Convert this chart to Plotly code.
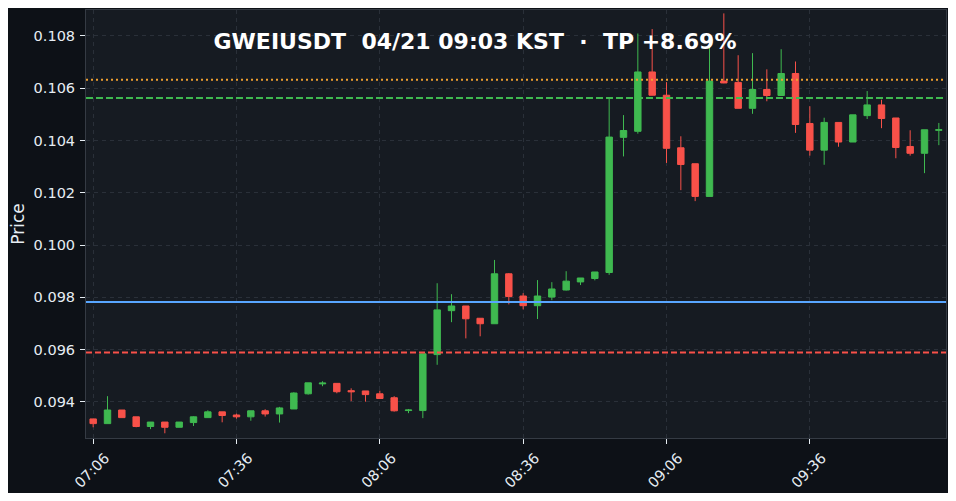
import plotly.graph_objects as go
import pandas as pd

start = "2025-04-21 07:06"
opens = [0.09335, 0.09317, 0.09369, 0.09343, 0.09306, 0.09323, 0.09303, 0.09321, 0.09340, 0.09362,
         0.09350, 0.09343, 0.09366, 0.09354, 0.09373, 0.09431, 0.09469, 0.09471, 0.09443, 0.09442,
         0.09431, 0.09416, 0.09367, 0.09367, 0.09581, 0.09749, 0.09767, 0.09720, 0.09699, 0.09890,
         0.09805, 0.09768, 0.09801, 0.09828, 0.09859, 0.09872, 0.09895, 0.10412, 0.10435, 0.10662,
         0.10573, 0.10372, 0.10311, 0.10186, 0.10627, 0.10622, 0.10523, 0.10595, 0.10572, 0.10656,
         0.10465, 0.10363, 0.10469, 0.10394, 0.10495, 0.10536, 0.10486, 0.10377, 0.10351, 0.10439]
closes = [0.09317, 0.09369, 0.09340, 0.09306, 0.09323, 0.09303, 0.09323, 0.09343, 0.09362, 0.09348,
          0.09343, 0.09366, 0.09354, 0.09377, 0.09434, 0.09473, 0.09472, 0.09439, 0.09439, 0.09428,
          0.09413, 0.09366, 0.09369, 0.09584, 0.09752, 0.09767, 0.09718, 0.09699, 0.09890, 0.09803,
          0.09768, 0.09805, 0.09832, 0.09862, 0.09874, 0.09897, 0.10413, 0.10438, 0.10662, 0.10573,
          0.10370, 0.10308, 0.10186, 0.10627, 0.10620, 0.10523, 0.10595, 0.10572, 0.10656, 0.10461,
          0.10363, 0.10469, 0.10394, 0.10498, 0.10536, 0.10484, 0.10373, 0.10351, 0.10441, 0.10441]
highs = [0.09335, 0.09422, 0.09369, 0.09343, 0.09323, 0.09323, 0.09323, 0.09345, 0.09368, 0.09362,
         0.09355, 0.09366, 0.09372, 0.09381, 0.09437, 0.09473, 0.09479, 0.09471, 0.09452, 0.09442,
         0.09443, 0.09422, 0.09373, 0.09584, 0.09854, 0.09812, 0.09767, 0.09720, 0.09943, 0.09893,
         0.09816, 0.09866, 0.09858, 0.09900, 0.09874, 0.09897, 0.10562, 0.10497, 0.10809, 0.10826,
         0.10623, 0.10416, 0.10311, 0.10780, 0.10886, 0.10726, 0.10734, 0.10672, 0.10749, 0.10702,
         0.10531, 0.10487, 0.10469, 0.10498, 0.10589, 0.10556, 0.10486, 0.10439, 0.10441, 0.10467]
lows = [0.09303, 0.09317, 0.09340, 0.09303, 0.09296, 0.09280, 0.09303, 0.09308, 0.09340, 0.09322,
        0.09336, 0.09328, 0.09344, 0.09321, 0.09373, 0.09428, 0.09460, 0.09433, 0.09403, 0.09401,
        0.09413, 0.09363, 0.09357, 0.09338, 0.09542, 0.09705, 0.09643, 0.09651, 0.09699, 0.09773,
        0.09754, 0.09717, 0.09789, 0.09826, 0.09847, 0.09865, 0.09886, 0.10339, 0.10426, 0.10573,
        0.10314, 0.10210, 0.10168, 0.10186, 0.10619, 0.10523, 0.10502, 0.10550, 0.10572, 0.10429,
        0.10342, 0.10307, 0.10376, 0.10394, 0.10482, 0.10447, 0.10332, 0.10342, 0.10275, 0.10382]

times = pd.date_range(start, periods=len(opens), freq="3min")

entry_price = 0.09782
tp_price = 0.10632
level_price = 0.10562
sl_price = 0.09589

title_text = "GWEIUSDT  04/21 09:03 KST  ·  TP +8.69%"

GREEN = "#3fb950"
RED = "#f85149"

fig = go.Figure()
fig.add_trace(go.Candlestick(
    x=times, open=opens, high=highs, low=lows, close=closes,
    increasing=dict(line=dict(color=GREEN, width=1), fillcolor=GREEN),
    decreasing=dict(line=dict(color=RED, width=1), fillcolor=RED),
    showlegend=False, hoverinfo="skip",
))

lines = [
    (tp_price, "#f0a030", "2px,3px", 2),
    (level_price, GREEN, "7px,3px", 2),
    (entry_price, "#58a6ff", "solid", 2),
    (sl_price, RED, "6px,3px", 2),
]
for yv, col, dash, w in lines:
    fig.add_shape(type="line", xref="paper", x0=0, x1=1, yref="y", y0=yv, y1=yv,
                  line=dict(color=col, dash=dash, width=w))

x0 = times[0] - pd.Timedelta(seconds=90)
x1 = times[-1] + pd.Timedelta(seconds=90)

W, H = 940, 485
fig.update_layout(
    width=W, height=H,
    paper_bgcolor="#0d1117", plot_bgcolor="#161b22",
    margin=dict(l=78, r=2, t=2, b=55),
    boxgap=0.36,
    font=dict(family="DejaVu Sans", color="#e6edf3", size=14.5),
    title=dict(text="<b>" + title_text + "</b>", x=467 / W, xanchor="center",
               y=1 - 33 / H, yanchor="middle", font=dict(size=22, color="#ffffff")),
    xaxis=dict(
        range=[x0, x1], rangeslider=dict(visible=False), automargin=False,
        tickmode="linear", tick0=times[0], dtick=30 * 60 * 1000,
        tickformat="%H:%M", tickangle=-45, tickfont=dict(size=14.5),
        ticklabelshift=12, ticklabelstandoff=0,
        showgrid=True, gridcolor="#2a3039", griddash="4px,4px", gridwidth=1,
        ticks="outside", ticklen=5, tickcolor="#e6edf3",
        showline=True, linecolor="#353b44", mirror=True, zeroline=False,
    ),
    yaxis=dict(
        range=[0.09262, 0.10899], automargin=False,
        tickmode="linear", tick0=0.094, dtick=0.002, tickformat=".3f",
        ticklabelstandoff=2,
        title=dict(text="Price", standoff=8),
        showgrid=True, gridcolor="#2a3039", griddash="4px,4px", gridwidth=1,
        ticks="outside", ticklen=5, tickcolor="#e6edf3",
        showline=True, linecolor="#353b44", mirror=True, zeroline=False,
    ),
)

fig.write_html("out.html")
